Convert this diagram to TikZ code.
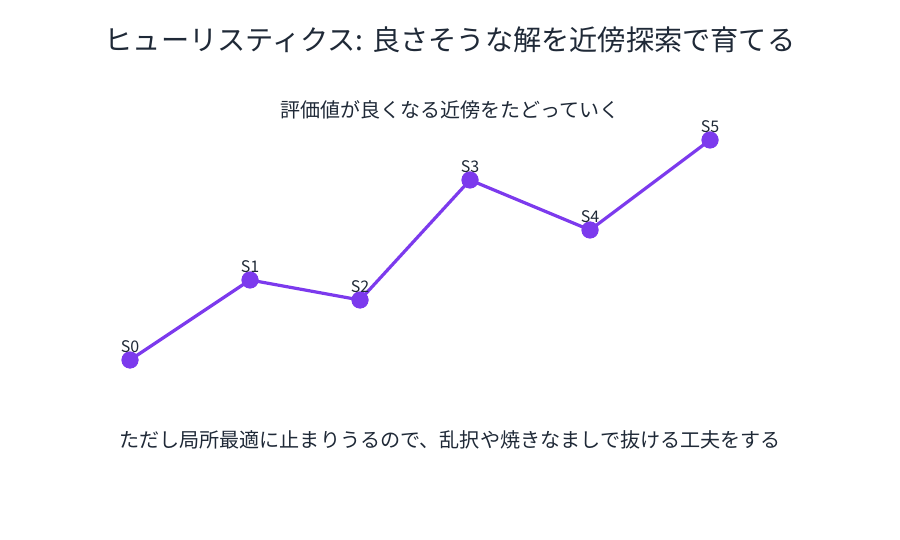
\documentclass[tikz,border=0pt]{standalone}
\usepackage{fontspec}
\setmainfont{Noto Sans CJK JP}
\definecolor{ink}{HTML}{1F2937}
\definecolor{vio}{HTML}{7C3AED}
\begin{document}
\begin{tikzpicture}[x=1pt,y=-1pt,
  dot/.style={circle,fill=vio,inner sep=0pt,minimum size=17pt},
  lbl/.style={text=ink,font=\fontsize{16}{16}\selectfont,inner sep=0pt},
  link/.style={draw=vio,line width=3.2pt}]
\useasboundingbox (0,0) rectangle (900,540);
\node[text=ink,font=\fontsize{28.2}{30}\selectfont] (title) at (450,40) {ヒューリスティクス: 良さそうな解を近傍探索で育てる};
\node[text=ink,font=\fontsize{20}{22}\selectfont] (sub) at (450,110) {評価値が良くなる近傍をたどっていく};
\node[text=ink,font=\fontsize{20.1}{22}\selectfont] (note) at (450,440) {ただし局所最適に止まりうるので、乱択や焼きなましで抜ける工夫をする};
\node[dot] (s0) at (130,360) {};
\node[dot] (s1) at (250,280) {};
\node[dot] (s2) at (360,300) {};
\node[dot] (s3) at (470,180) {};
\node[dot] (s4) at (590,230) {};
\node[dot] (s5) at (710,140) {};
\draw[link] (s0.center) -- (s1.center) -- (s2.center) -- (s3.center) -- (s4.center) -- (s5.center);
\foreach \n in {0,...,5} { \node[dot] at (s\n) {}; }
\node[lbl] (l0) at (130,347) {S0};
\node[lbl] (l1) at (250,267) {S1};
\node[lbl] (l2) at (360,287) {S2};
\node[lbl] (l3) at (470,167) {S3};
\node[lbl] (l4) at (590,217) {S4};
\node[lbl] (l5) at (710,127) {S5};
\end{tikzpicture}
\end{document}
